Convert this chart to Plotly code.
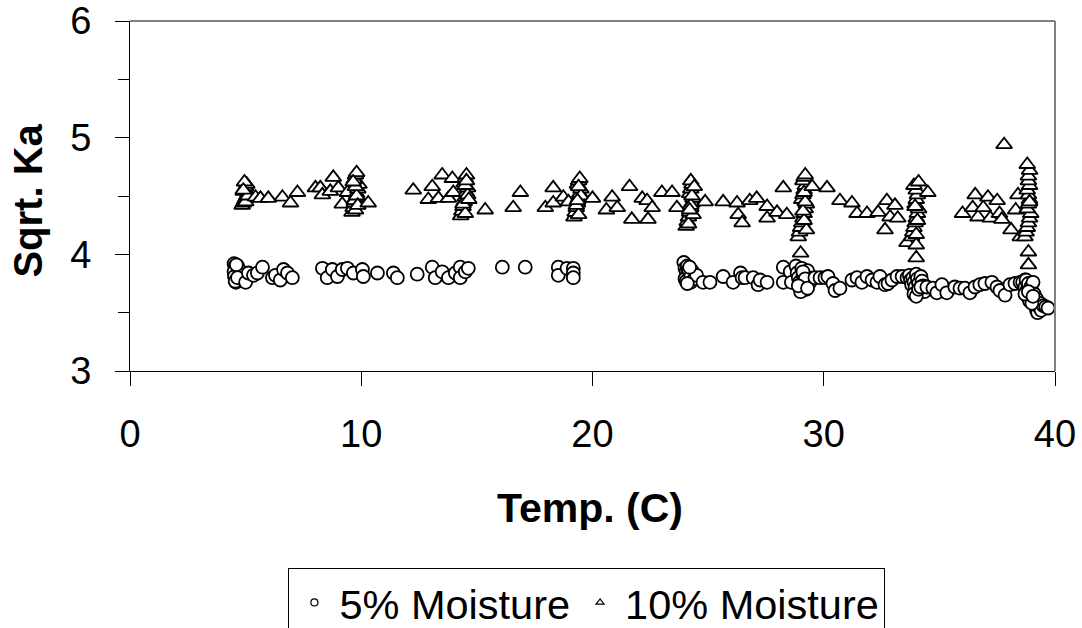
import plotly.graph_objects as go

# ---------------- data ----------------
# 5% Moisture (circles)
temp_5 = [
    4.50, 4.55, 4.60, 4.62, 4.65, 4.70, 4.55, 4.60, 4.50, 4.65, 4.58, 4.70, 4.62, 4.52, 4.68, 4.75, 4.60, 4.55,
    4.65, 5.00, 5.12, 5.34, 5.51, 5.73, 6.16, 6.29, 6.50, 6.64, 6.81, 7.02,
    8.32, 8.53, 8.75, 8.97, 9.18, 9.40, 9.66, 10.05, 10.09, 10.70, 11.39, 11.56,
    12.42, 13.07, 13.20, 13.50, 13.77, 14.07, 14.28, 14.28, 14.50, 14.63,
    16.10, 17.09, 18.52, 18.52, 18.90, 19.17, 19.17, 19.17,
    23.95, 24.00, 24.05, 24.10, 24.15, 24.20, 24.25, 24.30, 24.35, 24.10, 24.00, 24.20, 24.30, 24.15, 24.05, 24.25, 24.40, 24.50, 24.10, 24.20,
    24.78, 25.08, 25.65, 26.08, 26.40, 26.47, 26.60, 26.95, 27.16, 27.25, 27.55,
    28.25, 28.25, 28.55, 28.60,
    28.80, 28.85, 28.90, 28.95, 29.00, 29.05, 29.10, 29.15, 29.20, 29.25, 29.30, 29.35, 29.40, 29.00, 29.10, 29.20, 28.90, 29.30,
    29.62, 29.84, 30.05, 30.18, 30.40, 30.49, 30.70,
    31.22, 31.44, 31.65, 31.87, 32.09, 32.30, 32.43, 32.65, 32.78, 32.95, 33.17, 33.39, 33.60,
    33.70, 33.75, 33.80, 33.85, 33.90, 33.95, 34.00, 34.05, 34.10, 34.15, 34.20, 34.25, 34.30, 34.35, 33.90, 34.00, 34.10, 34.20,
    34.46, 34.72, 34.89, 35.11, 35.32, 35.67, 35.89, 36.10, 36.32, 36.54, 36.75, 36.97, 37.27, 37.49, 37.62, 37.84, 38.05, 38.27, 38.49, 38.70,
    38.60, 38.70, 38.75, 38.80, 38.85, 38.90, 38.95, 39.00, 39.00, 39.05, 39.10, 39.10, 39.15, 39.20, 39.20, 39.25, 39.30, 39.35, 39.40, 39.50, 39.60, 39.70,
    38.80, 38.90, 39.00, 38.70, 38.85, 39.05,
]
sqrtka_5 = [
    3.92, 3.90, 3.88, 3.86, 3.84, 3.82, 3.80, 3.78, 3.85, 3.90, 3.76, 3.87, 3.83, 3.81, 3.79, 3.86, 3.91, 3.77,
    3.80, 3.76, 3.84, 3.82, 3.84, 3.89, 3.80, 3.82, 3.78, 3.87, 3.84, 3.80,
    3.88, 3.80, 3.87, 3.81, 3.87, 3.88, 3.84, 3.87, 3.81, 3.84, 3.84, 3.80,
    3.83, 3.89, 3.80, 3.85, 3.80, 3.84, 3.89, 3.80, 3.85, 3.88,
    3.89, 3.89, 3.89, 3.82, 3.88, 3.88, 3.84, 3.80,
    3.93, 3.88, 3.85, 3.82, 3.80, 3.78, 3.76, 3.86, 3.83, 3.90, 3.79, 3.84, 3.80, 3.87, 3.77, 3.81, 3.79, 3.82, 3.75, 3.89,
    3.76, 3.76, 3.81, 3.76, 3.84, 3.80, 3.80, 3.80, 3.74, 3.78, 3.76,
    3.89, 3.76, 3.85, 3.76,
    3.90, 3.84, 3.80, 3.76, 3.72, 3.88, 3.82, 3.78, 3.74, 3.70, 3.86, 3.80, 3.76, 3.68, 3.85, 3.79, 3.73, 3.71,
    3.80, 3.80, 3.80, 3.81, 3.75, 3.69, 3.71,
    3.78, 3.80, 3.76, 3.81, 3.78, 3.76, 3.81, 3.74, 3.75, 3.78, 3.81, 3.81, 3.80,
    3.82, 3.78, 3.74, 3.80, 3.76, 3.72, 3.83, 3.79, 3.75, 3.70, 3.81, 3.77, 3.73, 3.68, 3.66, 3.64, 3.70, 3.72,
    3.72, 3.71, 3.67, 3.74, 3.67, 3.72, 3.71, 3.71, 3.67, 3.72, 3.74, 3.75, 3.76, 3.72, 3.69, 3.65, 3.74, 3.75, 3.76, 3.78,
    3.76, 3.72, 3.78, 3.70, 3.75, 3.66, 3.72, 3.68, 3.62, 3.76, 3.60, 3.66, 3.56, 3.52, 3.62, 3.50, 3.55, 3.58, 3.52, 3.56, 3.55, 3.54,
    3.64, 3.60, 3.58, 3.66, 3.68, 3.64,
]

# 10% Moisture (triangles)
temp_10 = [
    4.85, 4.90, 4.95, 5.00, 5.05, 5.10, 4.90, 4.95, 5.00, 5.05, 4.95, 5.00, 5.10, 4.90,
    5.43, 5.64, 5.98, 6.59, 6.94, 7.24,
    8.02, 8.23, 8.32, 8.79, 8.66, 9.01, 9.18, 9.40,
    9.60, 9.65, 9.70, 9.75, 9.80, 9.85, 9.90, 9.70, 9.75, 9.80, 9.75, 9.70, 9.80, 9.75, 9.85, 9.65,
    10.30, 12.25, 12.90, 13.07, 13.34, 13.50, 13.77, 13.94, 13.98,
    14.30, 14.35, 14.40, 14.45, 14.50, 14.55, 14.60, 14.45, 14.50, 14.55, 14.50, 14.40, 14.60, 14.50, 14.55, 14.65,
    15.36, 16.57, 16.88, 17.96, 18.30, 18.30, 18.74, 18.96,
    19.20, 19.25, 19.30, 19.35, 19.40, 19.45, 19.50, 19.35, 19.40, 19.45, 19.40, 19.30, 19.50, 19.40, 19.35,
    20.00, 20.60, 20.85, 21.07, 21.60, 21.70, 22.15, 22.36, 22.40, 22.58, 23.00, 23.44, 23.65,
    24.05, 24.10, 24.15, 24.20, 24.25, 24.30, 24.35, 24.20, 24.25, 24.30, 24.25, 24.15, 24.35, 24.25, 24.30, 24.40, 24.20,
    24.87, 25.65, 26.25, 26.30, 26.47, 26.80, 27.10, 27.55, 27.55, 27.98, 28.25, 28.40,
    28.90, 28.95, 29.00, 29.05, 29.10, 29.15, 29.20, 29.25, 29.05, 29.10, 29.15, 29.20, 29.10, 29.15, 29.20, 29.00, 29.25, 29.15, 29.10, 29.20, 29.15,
    29.50, 30.14, 30.70, 31.22, 31.44, 31.87, 32.35, 32.65, 32.73, 32.87, 33.08, 33.20, 33.60,
    33.80, 33.85, 33.90, 33.95, 34.00, 34.05, 34.10, 33.95, 34.00, 34.05, 34.00, 33.90, 34.10, 34.00, 34.05, 33.95, 34.00, 34.00,
    34.50, 36.00, 36.44, 36.55, 36.67, 36.90, 37.10, 37.20, 37.50, 37.60, 37.80, 37.70, 38.10, 38.30, 38.40, 38.50,
    38.70, 38.75, 38.80, 38.85, 38.90, 38.95, 38.80, 38.85, 38.90, 38.85, 38.80, 38.90, 38.85, 38.85, 38.90, 38.80, 38.85, 38.85, 38.90,
]
sqrtka_10 = [
    4.42, 4.44, 4.46, 4.48, 4.50, 4.52, 4.54, 4.56, 4.58, 4.60, 4.62, 4.45, 4.50, 4.55,
    4.49, 4.48, 4.48, 4.49, 4.44, 4.53,
    4.57, 4.57, 4.51, 4.66, 4.54, 4.57, 4.43, 4.53,
    4.36, 4.40, 4.44, 4.48, 4.52, 4.56, 4.60, 4.64, 4.68, 4.70, 4.38, 4.46, 4.50, 4.58, 4.42, 4.62,
    4.44, 4.55, 4.47, 4.58, 4.48, 4.68, 4.48, 4.65, 4.53,
    4.33, 4.37, 4.41, 4.45, 4.49, 4.53, 4.57, 4.61, 4.65, 4.68, 4.35, 4.43, 4.51, 4.59, 4.63, 4.47,
    4.38, 4.40, 4.53, 4.40, 4.57, 4.44, 4.49, 4.45,
    4.32, 4.36, 4.40, 4.44, 4.48, 4.52, 4.56, 4.60, 4.63, 4.65, 4.34, 4.42, 4.50, 4.58, 4.46,
    4.48, 4.38, 4.49, 4.40, 4.58, 4.30, 4.48, 4.46, 4.30, 4.40, 4.53, 4.53, 4.40,
    4.24, 4.28, 4.32, 4.36, 4.40, 4.44, 4.48, 4.52, 4.56, 4.60, 4.63, 4.26, 4.34, 4.42, 4.50, 4.58, 4.38,
    4.45, 4.45, 4.44, 4.34, 4.27, 4.46, 4.48, 4.41, 4.31, 4.36, 4.57, 4.34,
    4.15, 4.19, 4.23, 4.27, 4.31, 4.35, 4.39, 4.43, 4.47, 4.51, 4.55, 4.59, 4.63, 4.66, 4.68, 4.01, 4.21, 4.29, 4.37, 4.45, 4.53,
    4.58, 4.57, 4.46, 4.44, 4.35, 4.35, 4.36, 4.21, 4.46, 4.32, 4.42, 4.31, 4.10,
    4.15, 4.19, 4.23, 4.27, 4.31, 4.35, 4.39, 4.43, 4.47, 4.51, 4.55, 4.59, 4.62, 4.17, 4.29, 4.41, 3.97, 4.08,
    4.53, 4.35, 4.40, 4.51, 4.32, 4.40, 4.49, 4.31, 4.46, 4.35, 4.94, 4.30, 4.21, 4.38, 4.51, 4.15,
    4.15, 4.19, 4.23, 4.27, 4.31, 4.35, 4.39, 4.43, 4.47, 4.51, 4.55, 4.59, 4.63, 4.67, 4.72, 4.77, 4.02, 3.91, 4.45,
]

series_names = ["5% Moisture", "10% Moisture"]
x_ticks = [0, 10, 20, 30, 40]
y_ticks = [3, 4, 5, 6]

# ---------------- figure ----------------
FONT = "Liberation Sans, Arial, sans-serif"
W, H = 1082, 628
L, R, T, B = 129.5, 1055, 21, 371

fig = go.Figure()
fig.add_trace(go.Scatter(
    x=temp_5, y=sqrtka_5, mode="markers", showlegend=False, cliponaxis=False,
    marker=dict(symbol="circle", size=13, color="white", line=dict(color="black", width=1.8)),
))
fig.add_trace(go.Scatter(
    x=temp_10, y=sqrtka_10, mode="markers", showlegend=False, cliponaxis=False,
    marker=dict(symbol="triangle-up", size=14, color="white", line=dict(color="black", width=1.8)),
))
# legend-only entries (small symbols as in the reference legend)
fig.add_trace(go.Scatter(
    x=[None], y=[None], mode="markers", name=series_names[0],
    marker=dict(symbol="circle", size=7, color="white", line=dict(color="black", width=1.2)),
))
fig.add_trace(go.Scatter(
    x=[None], y=[None], mode="markers", name=series_names[1],
    marker=dict(symbol="triangle-up", size=7, color="white", line=dict(color="black", width=1.2)),
))

# gray top/right frame of the plot area
fig.add_shape(type="line", xref="paper", yref="paper", x0=0, x1=1, y0=1, y1=1,
              line=dict(color="#808080", width=2))
fig.add_shape(type="line", xref="paper", yref="paper", x0=1, x1=1, y0=0, y1=1,
              line=dict(color="#808080", width=2))

fig.update_layout(
    width=W, height=H,
    margin=dict(l=L, r=W - R, t=T, b=H - B, pad=0, autoexpand=False),
    paper_bgcolor="white", plot_bgcolor="white",
    font=dict(family=FONT, size=38, color="black"),
    showlegend=True,
    legend=dict(
        orientation="h", x=(288 - L) / (R - L), y=(B - 568) / (B - T),
        xanchor="left", yanchor="top",
        bordercolor="black", borderwidth=1, bgcolor="white",
        font=dict(family=FONT, size=41.5, color="black"),
        itemwidth=40, tracegroupgap=0,
    ),
    xaxis=dict(
        range=[0, 40], tickvals=x_ticks, ticks="outside", ticklen=14, tickwidth=1,
        tickcolor="black", showline=True, linecolor="black", linewidth=1,
        showgrid=False, zeroline=False, ticklabelstandoff=15, automargin=False,
        tickfont=dict(family=FONT, size=38),
    ),
    yaxis=dict(
        range=[3, 6], tickvals=y_ticks, ticks="outside", ticklen=14, tickwidth=1,
        tickcolor="black", showline=True, linecolor="black", linewidth=1,
        showgrid=False, zeroline=False, ticklabelstandoff=16, automargin=False,
        tickfont=dict(family=FONT, size=38),
        minor=dict(dtick=0.5, ticks="outside", ticklen=11, tickcolor="black", tickwidth=1, showgrid=False),
    ),
    annotations=[
        dict(text="<b>Temp. (C)</b>", xref="paper", yref="paper",
             x=(590 - L) / (R - L), y=(B - 508) / (B - T), xanchor="center", yanchor="middle",
             showarrow=False, font=dict(family=FONT, size=41, color="black")),
        dict(text="<b>Sqrt. Ka</b>", xref="paper", yref="paper",
             x=(27 - L) / (R - L), y=(B - 201) / (B - T), xanchor="center", yanchor="middle",
             textangle=-90, showarrow=False, font=dict(family=FONT, size=40, color="black")),
    ],
)

fig.write_html(
    "out.html",
    config={"displayModeBar": False},
    post_script="document.body.style.margin='0';document.body.style.overflow='hidden';",
)
